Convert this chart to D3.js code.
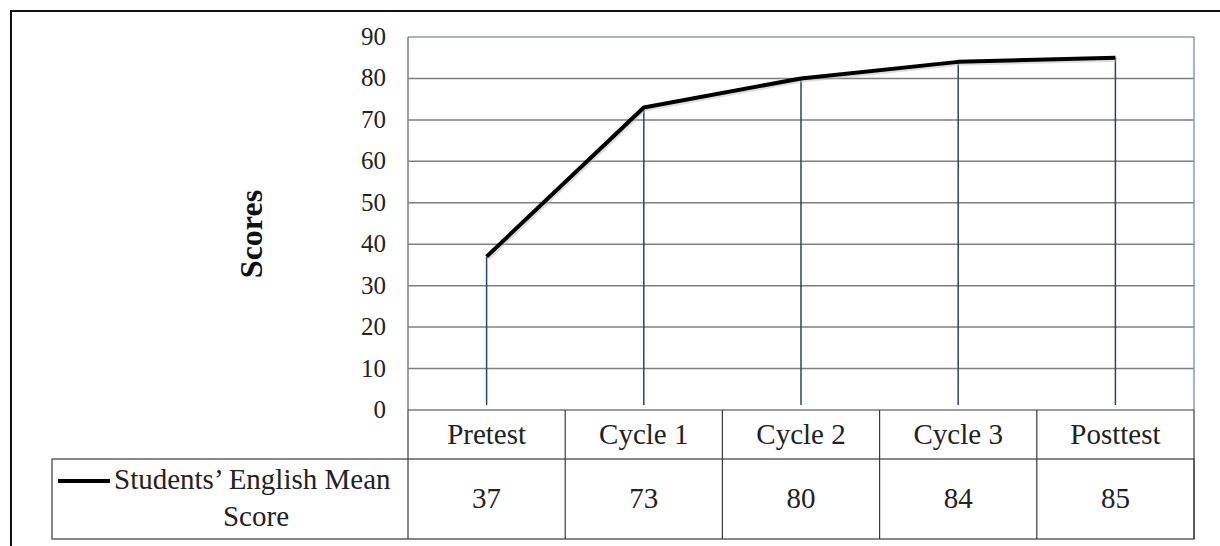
<!DOCTYPE html>
<html>
<head>
<meta charset="utf-8">
<script src="https://cdn.jsdelivr.net/npm/d3@7"></script>
<style>
  body { margin: 0; background: #fff; }
  svg { display: block; font-family: "Liberation Serif", "Times New Roman", serif; }
</style>
</head>
<body>
<div id="chart"></div>
<script>
// Chart data
const categories = ["Pretest", "Cycle 1", "Cycle 2", "Cycle 3", "Posttest"];
const meanScores = [37, 73, 80, 84, 85];
const yTicks = [0, 10, 20, 30, 40, 50, 60, 70, 80, 90];
const seriesName = ["Students\u2019 English Mean", "Score"];

const width = 1220, height = 546;
const plot = { left: 408, right: 1194, top: 37, bottom: 410 };
const table = { left: 52, headBottom: 459, bottom: 539 };

const svg = d3.select("#chart").append("svg")
  .attr("width", width)
  .attr("height", height);

// outer frame (top + left only visible)
svg.append("path")
  .attr("d", `M11,${height} V11 H${width}`)
  .attr("fill", "none")
  .attr("stroke", "#111")
  .attr("stroke-width", 2);

const x = d3.scaleBand().domain(categories).range([plot.left, plot.right]);
const y = d3.scaleLinear().domain([0, 90]).range([plot.bottom, plot.top]);

// gridlines
svg.append("g")
  .selectAll("line")
  .data(yTicks.filter(t => t > 0 && t < 90))
  .join("line")
  .attr("x1", plot.left).attr("x2", plot.right)
  .attr("y1", d => y(d)).attr("y2", d => y(d))
  .attr("stroke", "#7f7f7f")
  .attr("stroke-width", 1.5);

// plot border: top/right bluish, left grey
svg.append("path")
  .attr("d", `M${plot.left},${y(90)} H${plot.right} V${plot.bottom}`)
  .attr("fill", "none")
  .attr("stroke", "#8b9bb4")
  .attr("stroke-width", 1.5);
svg.append("line")
  .attr("x1", plot.left).attr("x2", plot.left)
  .attr("y1", y(90)).attr("y2", plot.bottom)
  .attr("stroke", "#7f7f7f")
  .attr("stroke-width", 1.5);

// y tick labels
svg.append("g")
  .selectAll("text")
  .data(yTicks)
  .join("text")
  .attr("x", 386)
  .attr("y", d => y(d) + 8)
  .attr("text-anchor", "end")
  .attr("font-size", 25)
  .attr("fill", "#222")
  .text(d => d);

// y title
svg.append("text")
  .attr("transform", `translate(262,234) rotate(-90)`)
  .attr("text-anchor", "middle")
  .attr("font-size", 32)
  .attr("font-weight", "bold")
  .attr("fill", "#111")
  .text("Scores");

// drop lines
const cx = d => x(d) + x.bandwidth() / 2;
svg.append("g")
  .selectAll("line")
  .data(categories)
  .join("line")
  .attr("x1", d => cx(d)).attr("x2", d => cx(d))
  .attr("y1", (d, i) => y(meanScores[i]))
  .attr("y2", plot.bottom - 5)
  .attr("stroke", "#2a4468")
  .attr("stroke-width", 1.5);

// data line
const line = d3.line()
  .x((d, i) => cx(categories[i]))
  .y(d => y(d));
svg.append("path")
  .datum(meanScores)
  .attr("d", line)
  .attr("fill", "none")
  .attr("stroke", "#bbb")
  .attr("stroke-width", 5)
  .attr("opacity", 0.5)
  .attr("transform", "translate(1,1.5)");
svg.append("path")
  .datum(meanScores)
  .attr("d", line)
  .attr("fill", "none")
  .attr("stroke", "#000")
  .attr("stroke-width", 4)
  .attr("stroke-linejoin", "round");

// data table
const tg = svg.append("g")
  .attr("fill", "none")
  .attr("stroke", "#3a3a3a")
  .attr("stroke-width", 1.2);
tg.append("line")
  .attr("x1", plot.left).attr("x2", plot.right)
  .attr("y1", plot.bottom).attr("y2", plot.bottom);
tg.append("rect")
  .attr("x", table.left).attr("y", table.headBottom)
  .attr("width", plot.right - table.left)
  .attr("height", table.bottom - table.headBottom);
tg.selectAll("line.col")
  .data(categories)
  .join("line")
  .attr("class", "col")
  .attr("x1", d => x(d)).attr("x2", d => x(d))
  .attr("y1", plot.bottom).attr("y2", table.bottom);
tg.append("line")
  .attr("x1", plot.right).attr("x2", plot.right)
  .attr("y1", plot.bottom).attr("y2", table.bottom);

// category labels
svg.append("g")
  .selectAll("text")
  .data(categories)
  .join("text")
  .attr("x", d => cx(d))
  .attr("y", 444)
  .attr("text-anchor", "middle")
  .attr("font-size", 29)
  .attr("fill", "#222")
  .text(d => d);

// values
svg.append("g")
  .selectAll("text")
  .data(meanScores)
  .join("text")
  .attr("x", (d, i) => cx(categories[i]))
  .attr("y", 508)
  .attr("text-anchor", "middle")
  .attr("font-size", 29)
  .attr("fill", "#222")
  .text(d => d);

// legend key
svg.append("line")
  .attr("x1", 58).attr("x2", 110)
  .attr("y1", 481).attr("y2", 481)
  .attr("stroke", "#000")
  .attr("stroke-width", 4);
svg.append("text")
  .attr("x", 114).attr("y", 489)
  .attr("font-size", 29)
  .attr("fill", "#222")
  .text(seriesName[0]);
svg.append("text")
  .attr("x", 256).attr("y", 526)
  .attr("text-anchor", "middle")
  .attr("font-size", 29)
  .attr("fill", "#222")
  .text(seriesName[1]);
</script>
</body>
</html>
